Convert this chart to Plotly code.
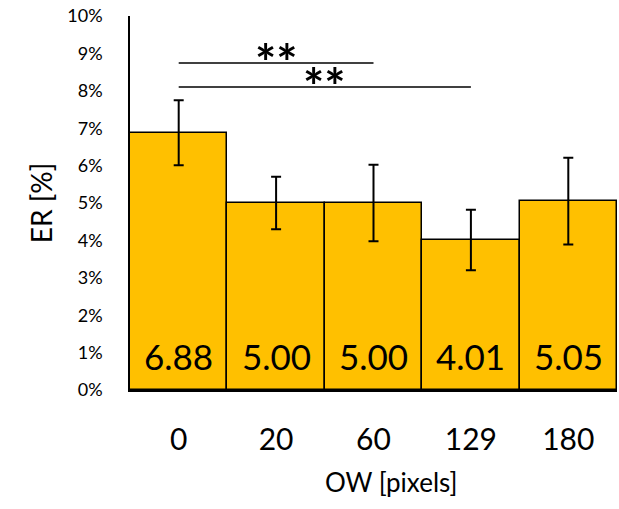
import plotly.graph_objects as go

categories = ["0", "20", "60", "129", "180"]
er_values = [6.88, 5.00, 5.00, 4.01, 5.05]
er_errors = [0.87, 0.70, 1.02, 0.81, 1.16]
value_labels = ["6.88", "5.00", "5.00", "4.01", "5.05"]
y_ticks = [0, 1, 2, 3, 4, 5, 6, 7, 8, 9, 10]
y_tick_labels = [f"{v}%" for v in y_ticks]
# significance brackets: (from index, to index, height in %, label)
sig_pairs = [(0, 2, 8.74, "**"), (0, 3, 8.10, "**")]

FONT = "Lato"

fig = go.Figure()
fig.add_trace(go.Bar(
    x=categories, y=er_values,
    marker=dict(color="#FFC000", line=dict(color="black", width=1.5)),
    error_y=dict(type="data", array=er_errors, color="black", thickness=2, width=5),
    cliponaxis=False,
))

# value labels near the bottom of each bar
for idx, lab in enumerate(value_labels):
    fig.add_annotation(xref="x", yref="y", x=idx, y=0, text=lab,
                       showarrow=False, yanchor="middle", yshift=34,
                       font=dict(size=35, color="black", family=FONT))

for i0, i1, h, lab in sig_pairs:
    fig.add_shape(type="line", xref="x", yref="y", x0=i0, x1=i1, y0=h, y1=h,
                  line=dict(color="black", width=1.5))
    fig.add_annotation(xref="x", yref="y", x=(i0 + i1) / 2, y=h, text=f"<b>{lab}</b>",
                       showarrow=False, yanchor="bottom", yshift=-31,
                       font=dict(size=50, color="black", family=FONT))

# x axis title (slightly right of centre, as in the original)
fig.add_annotation(xref="paper", yref="paper", x=0.536, y=0, text="OW [pixels]",
                   showarrow=False, yanchor="middle", yshift=-92,
                   font=dict(size=26, color="black", family=FONT))

fig.update_layout(
    width=619, height=509,
    margin=dict(l=130, r=2, t=16, b=119),
    plot_bgcolor="white", paper_bgcolor="white",
    bargap=0, showlegend=False,
    font=dict(family=FONT, color="black"),
    xaxis=dict(
        type="category",
        showline=True, linecolor="black", linewidth=1.5,
        showgrid=False, ticks="", tickfont=dict(size=30),
        ticklabelstandoff=22,
    ),
    yaxis=dict(
        range=[0, 10], tickvals=y_ticks, ticktext=y_tick_labels,
        showline=True, linecolor="black", linewidth=1.5,
        showgrid=False, zeroline=False, ticks="", tickfont=dict(size=18),
        ticklabelstandoff=22,
        title=dict(text="ER [%]", font=dict(size=28), standoff=7),
    ),
)

fig.write_html("out.html")
